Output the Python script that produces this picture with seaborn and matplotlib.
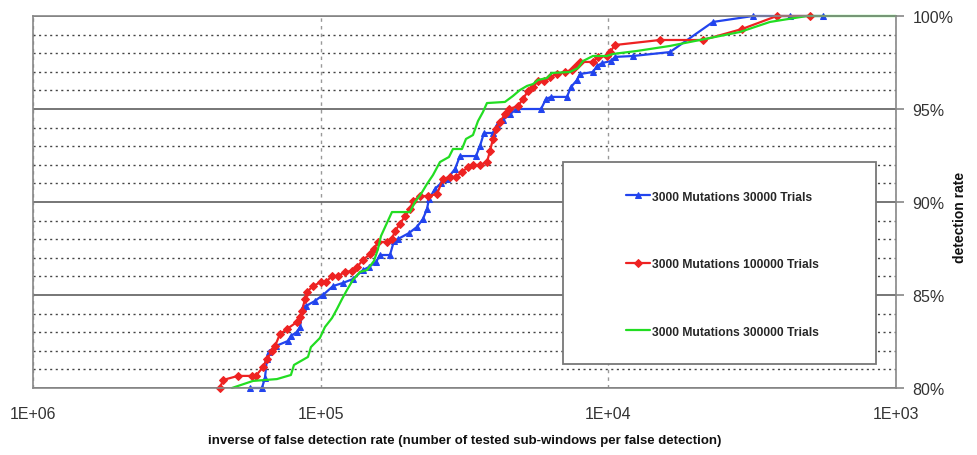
import matplotlib
matplotlib.use("Agg")
import matplotlib.pyplot as plt
import seaborn as sns
import pandas as pd
from matplotlib.patches import Rectangle
from matplotlib.ticker import FixedLocator, NullLocator

# 3000 mutations / 30000 trials (blue, triangles)
blue_x = [176100, 160000, 156200, 153700, 151200, 143000, 129900, 126900, 120900, 118000,
          115200, 112500, 104700, 98170, 90610, 83620, 77220, 71270, 67940, 64230,
          62200, 57430, 55620, 53870, 49320, 46270, 44100, 42700, 42020, 40040,
          38170, 36380, 34130, 32790, 28850, 27940, 27060, 25180, 24390, 23250,
          21980, 20780, 17140, 16470, 15830, 13930, 13490, 12850, 12550, 11310,
          10950, 10520, 9790, 9480, 8210, 6107, 4328, 3142, 2337, 1795]
blue_y = [80.0, 80.0, 80.54, 81.56, 81.94, 82.26, 82.53, 82.80, 83.01, 83.28,
          84.35, 84.41, 84.68, 85.0, 85.48, 85.65, 85.86, 86.34, 86.51, 86.77,
          87.15, 87.15, 87.90, 88.01, 88.33, 88.66, 89.09, 89.62, 90.16, 90.70,
          91.02, 91.24, 91.77, 92.47, 92.47, 93.01, 93.71, 93.71, 94.14, 94.41,
          94.73, 95.0, 95.0, 95.54, 95.65, 95.65, 96.18, 96.56, 96.88, 96.99,
          97.31, 97.47, 97.58, 97.80, 97.85, 98.06, 99.68, 100.0, 100.0, 100.0]

# 3000 mutations / 100000 trials (red, diamonds)
red_x = [224000, 218600, 193800, 173300, 167900, 158700, 153700, 147600, 144100, 138500,
         131000, 120900, 118000, 116100, 113400, 111600, 106300, 99750, 95830, 91340,
         87050, 82300, 77840, 74780, 71270, 67400, 65270, 63210, 58820, 56510,
         55180, 53010, 50920, 48930, 47770, 45160, 42360, 39410, 37560, 35520,
         33860, 32270, 30750, 29550, 27940, 26420, 25790, 25180, 24590, 23810,
         22880, 22150, 20610, 19810, 19030, 18280, 17560, 16740, 15950, 15090,
         14150, 13380, 12960, 12550, 11310, 10870, 10110, 9870, 9480, 6615,
         4690, 3431, 2594, 1991]
red_y = [80.0, 80.43, 80.65, 80.65, 80.65, 81.13, 81.56, 81.99, 82.26, 82.90,
         83.17, 83.55, 83.82, 84.14, 84.78, 85.16, 85.48, 85.70, 85.70, 86.02,
         86.02, 86.24, 86.29, 86.51, 86.88, 87.20, 87.47, 87.85, 87.85, 88.01,
         88.44, 88.82, 89.25, 89.62, 90.05, 90.32, 90.32, 90.43, 91.24, 91.34,
         91.34, 91.61, 91.88, 91.99, 91.99, 92.15, 92.74, 93.39, 93.92, 94.30,
         94.73, 95.0, 95.16, 95.54, 95.97, 96.18, 96.51, 96.51, 96.72, 96.88,
         96.99, 97.10, 97.31, 97.53, 97.53, 97.80, 97.85, 98.06, 98.44, 98.71,
         98.71, 99.30, 100.0, 100.0]

# 3000 mutations / 300000 trials (green, plain line)
green_x = [203400, 193800, 171900, 141900, 126900, 123800, 110700, 108100, 100600, 96610,
           91340, 87760, 84300, 81010, 77220, 73000, 69030, 65270, 63210, 61710,
           59290, 56510, 48930, 47010, 44800, 42700, 40690, 38480, 35810, 34680,
           32270, 31250, 29550, 28390, 27280, 26420, 22880, 21460, 20290, 19180,
           18280, 17560, 16340, 15700, 13600, 12750, 12250, 11310, 10110, 9630,
           7950, 6107, 4803, 3487, 2743, 2040, 1000]
green_y = [80.0, 80.11, 80.38, 80.48, 80.70, 81.24, 81.67, 82.20, 82.69, 83.28,
           83.76, 84.25, 84.78, 85.27, 85.81, 86.24, 86.34, 86.83, 87.47, 88.17,
           88.76, 89.46, 89.46, 90.0, 90.43, 90.97, 91.45, 92.15, 92.42, 92.85,
           92.85, 93.39, 93.60, 94.35, 94.84, 95.32, 95.38, 95.70, 96.02, 96.24,
           96.34, 96.56, 96.67, 96.94, 96.99, 97.20, 97.58, 97.85, 97.85, 97.96,
           98.12, 98.39, 98.71, 99.14, 99.68, 100.0, 100.0]

labels = ["3000 Mutations 30000 Trials", "3000 Mutations 100000 Trials",
          "3000 Mutations 300000 Trials"]
x_ticks = [1e6, 1e5, 1e4, 1e3]
x_tick_labels = ["1E+06", "1E+05", "1E+04", "1E+03"]
y_ticks = [80, 85, 90, 95, 100]
y_tick_labels = ["80%", "85%", "90%", "95%", "100%"]

sns.set_style("white")
fonts = ["Liberation Sans", "DejaVu Sans"]
plt.rcParams["font.family"] = fonts

fig = plt.figure(figsize=(9.77, 4.56), dpi=100)
ax = fig.add_axes([33 / 977, 1 - 389 / 456, 863 / 977, 372 / 456])

sns.lineplot(x=blue_x, y=blue_y, ax=ax, color="#2244ee", lw=1.6, marker="^",
             markersize=5, markeredgecolor="#2244ee", sort=False, estimator=None,
             label=labels[0], clip_on=False)
sns.lineplot(x=red_x, y=red_y, ax=ax, color="#ee2222", lw=1.6, marker="D",
             markersize=4.5, markeredgecolor="#ee2222", sort=False, estimator=None,
             label=labels[1], clip_on=False)
sns.lineplot(x=green_x, y=green_y, ax=ax, color="#22dd22", lw=1.6,
             sort=False, estimator=None, label=labels[2], clip_on=False)

ax.set_xscale("log")
ax.set_xlim(1e6, 1e3)
ax.set_ylim(80, 100)

ax.xaxis.set_major_locator(FixedLocator(x_ticks))
ax.xaxis.set_minor_locator(NullLocator())
ax.set_xticklabels(x_tick_labels)
ax.yaxis.tick_right()
ax.set_yticks(y_ticks)
ax.set_yticklabels(y_tick_labels)
ax.set_yticks(range(80, 101), minor=True)
ax.tick_params(axis="both", which="major", length=6, width=1.2, color="#888888",
               labelsize=11.5, labelcolor="#333333", direction="out")
ax.tick_params(axis="x", pad=7)
ax.tick_params(axis="y", pad=6)
ax.tick_params(which="minor", length=0)

ax.set_axisbelow(True)
ax.grid(which="major", axis="y", color="#6b6b6b", lw=1.3, ls="-")
ax.grid(which="minor", axis="y", color="#444444", lw=1.0, ls=(0, (1.5, 2.5)))
ax.grid(which="major", axis="x", color="#999999", lw=1.0, ls=(0, (2.5, 3)))
for s in ax.spines.values():
    s.set_color("#888888")
    s.set_linewidth(1.2)
    s.set_visible(True)

ax.set_xlabel("inverse of false detection rate (number of tested sub-windows per false detection)",
              fontsize=9.5, fontweight="bold", color="#111111")
ax.xaxis.label.set_va("center")
ax.xaxis.set_label_coords(0.5, -0.14)
ax.yaxis.set_label_position("right")
ax.set_ylabel("detection rate", fontsize=10, fontweight="bold", color="#111111")
ax.yaxis.label.set_va("center")
ax.yaxis.label.set_ha("center")
ax.yaxis.set_label_coords(1.074, 0.462)

# legend box
ax.add_patch(Rectangle((0.614, 0.0645), 0.363, 0.543, transform=ax.transAxes,
                       facecolor="white", edgecolor="#777777", lw=1.3, zorder=4))
h, l = ax.get_legend_handles_labels()
leg = ax.legend(h, l, loc="center left", bbox_to_anchor=(0.687, 0.333), frameon=False,
                borderpad=0, borderaxespad=0, handlelength=2.0, handletextpad=0.2,
                labelspacing=4.6, prop={"size": 8.7, "weight": "bold", "family": fonts})
leg.set_zorder(6)

fig.savefig("out.png", dpi=100)
